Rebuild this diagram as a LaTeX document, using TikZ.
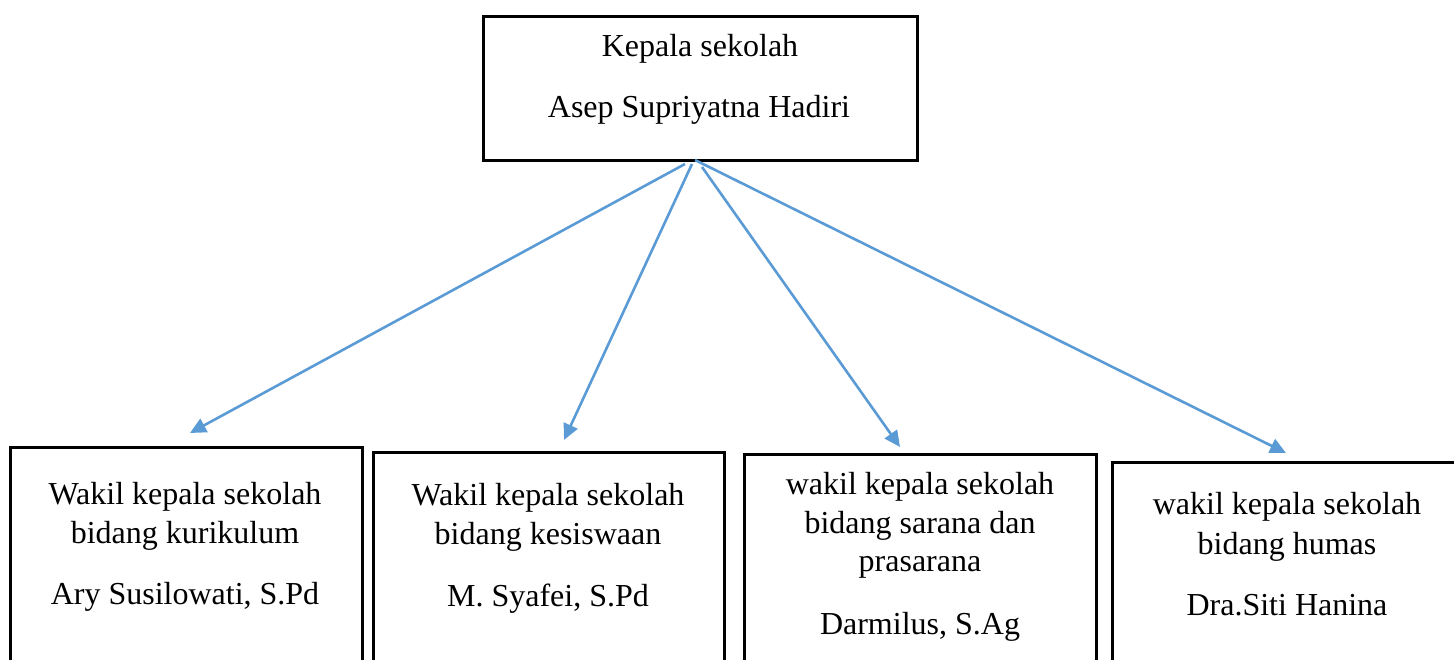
\documentclass[tikz,border=0pt]{standalone}
\usepackage{fontspec}
\setmainfont{Liberation Serif}
\usetikzlibrary{arrows.meta}
\definecolor{arrowblue}{RGB}{91,155,213}
\tikzset{
  box/.style={draw=black, line width=2.6pt, fill=white, inner sep=0pt, anchor=north west},
  txt/.style={font=\fontsize{32}{38}\selectfont, inner sep=0pt, anchor=base},
  conn/.style={draw=arrowblue, line width=2.6pt, -{Triangle[length=16pt,width=15pt]}}
}
\begin{document}
\begin{tikzpicture}[x=1pt,y=1pt]
\useasboundingbox (0,0) rectangle (1454,-660);
\clip (0,0) rectangle (1454,-660);
% top box
\node[box, minimum width=434pt, minimum height=144pt] (top) at (482,-15) {};
\node[txt] (topa) at (700,-57) {Kepala sekolah};
\node[txt] (topb) at (699,-118) {Asep Supriyatna Hadiri};
% bottom boxes
\node[box, minimum width=352pt, minimum height=300pt] (b1) at (9,-446) {};
\node[box, minimum width=351pt, minimum height=300pt] (b2) at (372,-451) {};
\node[box, minimum width=352pt, minimum height=300pt] (b3) at (743,-453) {};
\node[box, minimum width=400pt, minimum height=300pt] (b4) at (1111,-461) {};
% texts
\node[txt] (b1a) at (185,-504) {Wakil kepala sekolah};
\node[txt] (b1b) at (185,-543) {bidang kurikulum};
\node[txt] (b1c) at (185,-604) {Ary Susilowati, S.Pd};
\node[txt] (b2a) at (548,-505) {Wakil kepala sekolah};
\node[txt] (b2b) at (548,-544) {bidang kesiswaan};
\node[txt] (b2c) at (548,-606) {M. Syafei, S.Pd};
\node[txt] (b3a) at (920,-494) {wakil kepala sekolah};
\node[txt] (b3b) at (920,-533) {bidang sarana dan};
\node[txt] (b3c) at (920,-571) {prasarana};
\node[txt] (b3d) at (920,-634) {Darmilus, S.Ag};
\node[txt] (b4a) at (1287,-514) {wakil kepala sekolah};
\node[txt] (b4b) at (1287,-554) {bidang humas};
\node[txt] (b4c) at (1287,-615) {Dra.Siti Hanina};
% connector ends
\coordinate (s1) at (685,-164);
\coordinate (s2) at (692,-164);
\coordinate (s3) at (702,-167);
\coordinate (s4) at (695,-160);
\coordinate (e1) at (190,-433);
\coordinate (e2) at (564,-440);
\coordinate (e3) at (900,-447);
\coordinate (e4) at (1286,-453);
\draw[conn] (s1) -- (e1);
\draw[conn] (s2) -- (e2);
\draw[conn] (s3) -- (e3);
\draw[conn] (s4) -- (e4);
\end{tikzpicture}
\end{document}
